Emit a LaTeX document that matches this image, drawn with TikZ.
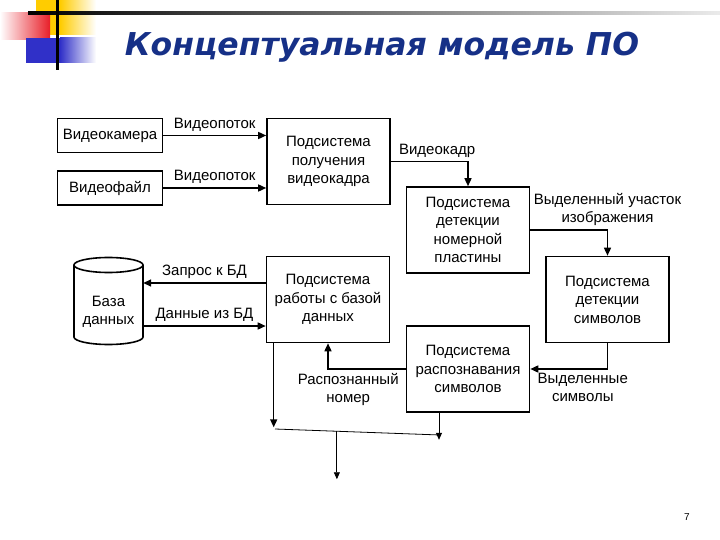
\documentclass[tikz,border=0pt]{standalone}
\usepackage{fontspec}
\setmainfont{Liberation Sans}
\newfontfamily\titlefont{DejaVu Sans Bold Oblique}
\usepackage{tikz}
\usetikzlibrary{
	arrows.meta,
	calc,
	positioning
}
\definecolor{TitleBlue}{RGB}{22,48,135}
\definecolor{LogoRed}{RGB}{232,30,40}
\definecolor{LogoYellow}{RGB}{255,204,0}
\definecolor{LogoBlue}{RGB}{48,48,200}

\begin{document}
\begin{tikzpicture}[x=1pt, y=-1pt,
		block/.style={draw, line width=1.6pt, align=center, inner sep=0pt, font=\fontsize{15}{18.5}\selectfont},
		subsys/.style={block, minimum width=123pt, minimum height=86pt},
		source/.style={block, minimum width=105pt, minimum height=34pt},
		lbl/.style={align=center, font=\fontsize{15}{18.5}\selectfont},
		flow/.style={line width=1.5pt, -{Triangle[length=8pt,width=7pt]}},
		thinflow/.style={line width=0.8pt, -{Triangle[length=7pt,width=6pt]}}]
		\useasboundingbox (0,0) rectangle (720,540);
		% logo
		\fill[LogoYellow] (36,0) rectangle (60,35);
		\shade[left color=LogoYellow, right color=white] (60,0) rectangle (96,35);
		\shade[left color=white, right color=LogoRed] (0,13) rectangle (50,40);
		\fill[LogoBlue] (26,38) rectangle (60,63);
		\shade[left color=LogoBlue, right color=white] (60,38) rectangle (96,63);
		\shade[left color=black, right color=black!8] (28,11.5) rectangle (720,14.5);
		\fill[black] (56,0) rectangle (59,70);
		\node[font=\titlefont\fontsize{31.5}{34}\selectfont, text=TitleBlue] (title) at (382,47) {Концептуальная модель ПО};
		% blocks
		\node[source] (cam) at (110,135.5) {Видеокамера};
		\node[source] (file) at (110,188) {Видеофайл};
		\node[subsys] (recv) at (328.5,161.5) {Подсистема\\получения\\видеокадра};
		\node[subsys] (plate) at (468,230) {Подсистема\\детекции\\номерной\\пластины};
		\node[subsys] (sym) at (607.5,299.5) {Подсистема\\детекции\\символов};
		\node[subsys] (dbsys) at (328,299.5) {Подсистема\\работы с базой\\данных};
		\node[subsys] (recog) at (468,369) {Подсистема\\распознавания\\символов};
		\node[lbl, minimum width=69pt, inner sep=0pt] (db) at (108.5,312) {База\\данных};
		\draw[line width=1.6pt] (74,265) -- (74,337) arc[start angle=180, end angle=0, x radius=34.5, y radius=7.5] -- (143,265);
		\draw[line width=1.6pt] (108.5,265) ellipse [x radius=34.5, y radius=7.5];
		% connectors
		\draw[flow] (cam.east) -- (cam.east -| recv.west) node[lbl, midway, above] {Видеопоток};
		\draw[flow] (file.east) -- (file.east -| recv.west) node[lbl, midway, above] {Видеопоток};
		\draw[flow] (recv.east) -| (plate.north) node[lbl, pos=0.3, above] {Видеокадр};
		\draw[flow] (plate.east) -| (sym.north) node[lbl, pos=0.5, above] {Выделенный участок\\изображения};
		\draw[flow] (sym.south) |- (recog.east) node[lbl, pos=0.66, below] {Выделенные\\символы};
		\draw[flow] (recog.west) -| (dbsys.south) node[lbl, pos=0.37, below] {Распознанный\\номер};
		\coordinate (req) at ([yshift=16.5pt]dbsys.west);
		\coordinate (resp) at ([yshift=-26.5pt]dbsys.west);
		\draw[flow] (req) -- (req -| db.east) node[lbl, midway, above] {Запрос к БД};
		\draw[flow] (resp -| db.east) -- (resp) node[lbl, midway, above] {Данные из БД};
		\draw[flow] ([xshift=8pt]dbsys.south west) -- ++(0,84);
		\coordinate (jl) at (275,429);
		\coordinate (jr) at (440,435);
		\coordinate (jm) at ($(jl)!0.375!(jr)$);
		\draw[line width=0.8pt] (jl) -- (jr);
		\draw[thinflow] (jm) -- ++(0,48);
		\draw[thinflow] ([xshift=-29pt]recog.south) -- ++(0,27);
		\node[font=\fontsize{10}{12}\selectfont] (pagenum) at (687,517) {7};
	\end{tikzpicture}
\end{document}
